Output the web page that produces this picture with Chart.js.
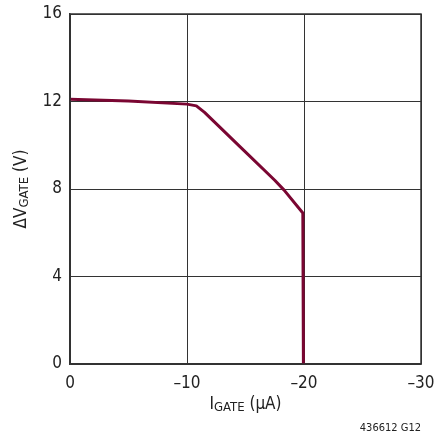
<!DOCTYPE html>
<html>
<head>
<meta charset="utf-8">
<script src="https://cdn.jsdelivr.net/npm/chart.js@4"></script>
<style>
  html, body { margin: 0; padding: 0; background: #fff; }
  #wrap { width: 436px; height: 434px; }
</style>
</head>
<body>
<div id="wrap"><canvas id="myChart" width="436" height="434"></canvas></div>
<script>
// gate current (uA) vs delta gate voltage (V)
var iGate = [0, -5, -10, -10.8, -11.5, -14.5, -17.5, -18.3, -19.9, -19.95];
var dvGate = [12.1, 12.02, 11.88, 11.8, 11.5, 9.95, 8.4, 7.95, 6.9, 0];
var xTickVals = [0, -10, -20, -30];
var xTickText = ['0', '\u201310', '\u201320', '\u201330'];
var yTickText = ['0', '4', '8', '12', '16'];

var FONT = '"Liberation Sans Narrow", "DejaVu Sans Condensed", "Liberation Sans", sans-serif';

var points = iGate.map(function(v, i) { return { x: v, y: dvGate[i] }; });

// draws text with a subscript part, centred on (0,0)
function subText(ctx, parts) {
    var total = 0;
    parts.forEach(function(p) {
        ctx.font = p.size + 'px ' + FONT;
        p.w = ctx.measureText(p.t).width;
        total += p.w;
    });
    var x = -total / 2;
    parts.forEach(function(p) {
        ctx.font = p.size + 'px ' + FONT;
        ctx.fillText(p.t, x, p.dy || 0);
        x += p.w;
    });
}

var labelsPlugin = {
    id: 'labels',
    afterDraw: function(chart) {
        var ctx = chart.ctx;
        var area = chart.chartArea;
        ctx.save();
        ctx.fillStyle = '#222';
        ctx.textBaseline = 'alphabetic';
        ctx.textAlign = 'left';
        // x title
        ctx.save();
        ctx.translate((area.left + area.right) / 2, 409);
        subText(ctx, [
            { t: 'I', size: 17 },
            { t: 'GATE', size: 13, dy: 2 },
            { t: ' (\u03bcA)', size: 17 }
        ]);
        ctx.restore();
        // y title
        ctx.save();
        ctx.translate(26, (area.top + area.bottom) / 2);
        ctx.rotate(-Math.PI / 2);
        subText(ctx, [
            { t: '\u0394V', size: 17 },
            { t: 'GATE', size: 13, dy: 2 },
            { t: ' (V)', size: 17 }
        ]);
        ctx.restore();
        // figure code
        ctx.font = '11px ' + FONT;
        ctx.textAlign = 'right';
        ctx.fillText('436612 G12', area.right, 431);
        ctx.restore();
    }
};

const ctx = document.getElementById('myChart').getContext('2d');
const myChart = new Chart(ctx, {
    type: 'scatter',
    data: {
        datasets: [{
            data: points,
            showLine: true,
            borderColor: '#7a0632',
            borderWidth: 3,
            pointRadius: 0,
            tension: 0,
            borderJoinStyle: 'round',
            borderCapStyle: 'butt'
        }]
    },
    options: {
        responsive: false,
        animation: false,
        layout: { padding: { top: 14, right: 15, left: 0, bottom: 0 } },
        plugins: {
            legend: { display: false },
            tooltip: { enabled: false }
        },
        scales: {
            x: {
                type: 'linear',
                reverse: true,
                min: -30,
                max: 0,
                afterFit: function(s) {
                    s.height = 70;
                    s.paddingLeft = 0;
                    s.paddingRight = 0;
                },
                afterBuildTicks: function(s) {
                    s.ticks = xTickVals.map(function(v) { return { value: v }; });
                },
                ticks: {
                    color: '#222',
                    font: { family: FONT, size: 17 },
                    padding: 9,
                    maxRotation: 0,
                    callback: function(v) { return xTickText[xTickVals.indexOf(v)]; }
                },
                grid: { color: '#333', lineWidth: 1, drawTicks: false },
                border: { color: '#333', width: 1.5 }
            },
            y: {
                min: 0,
                max: 16,
                afterFit: function(s) {
                    s.width = 70;
                    s.paddingTop = 0;
                    s.paddingBottom = 0;
                },
                ticks: {
                    stepSize: 4,
                    color: '#222',
                    font: { family: FONT, size: 17 },
                    padding: 8,
                    callback: function(v) { return yTickText[v / 4]; }
                },
                grid: { color: '#333', lineWidth: 1, drawTicks: false },
                border: { color: '#333', width: 1.5 }
            }
        }
    },
    plugins: [labelsPlugin, {
        id: 'frame',
        afterDatasetsDraw: function(chart) {
            var a = chart.chartArea, c = chart.ctx;
            c.save();
            c.strokeStyle = '#333';
            c.lineWidth = 1.5;
            c.strokeRect(a.left, a.top, a.right - a.left, a.bottom - a.top);
            c.restore();
        }
    }]
});
</script>
</body>
</html>
